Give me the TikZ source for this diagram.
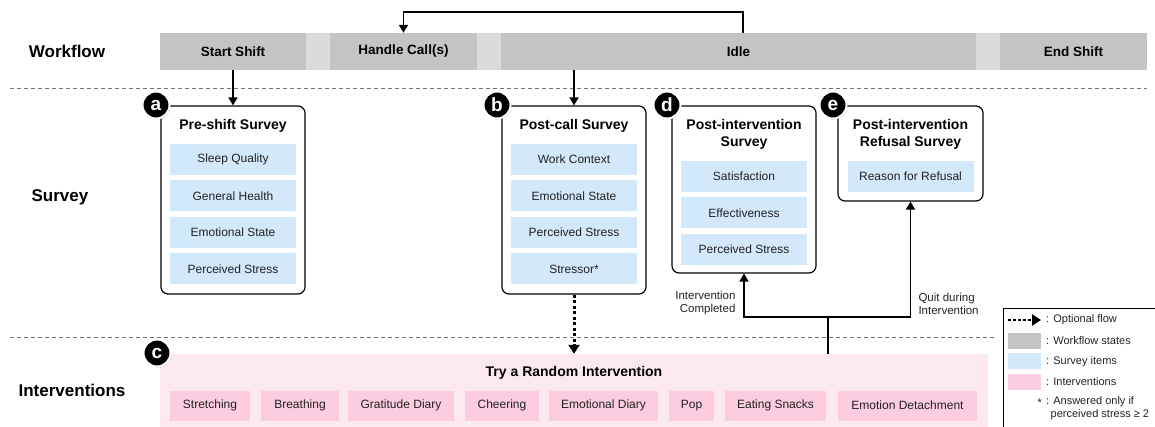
\documentclass[tikz,border=0pt]{standalone}
\usepackage{fontspec}
\setmainfont{Liberation Sans}
\usetikzlibrary{arrows.meta,shadows}
\definecolor{wfgray}{HTML}{C4C4C4}
\definecolor{wflight}{HTML}{DBDBDB}
\definecolor{survblue}{HTML}{D3E8FB}
\definecolor{intpink}{HTML}{FCCCE0}
\definecolor{intbg}{HTML}{FBE9EF}
\definecolor{txt}{HTML}{222222}
\tikzset{
  wfseg/.style={fill=wfgray, draw=none, minimum height=37pt, inner sep=0pt, font=\fontsize{13.5}{15}\selectfont\bfseries},
  wfgap/.style={fill=wflight, draw=none, minimum height=37pt, inner sep=0pt},
  rowlabel/.style={font=\fontsize{17}{18}\selectfont\bfseries},
  survbox/.style={draw=black, line width=1.2pt, rounded corners=7pt, fill=white, minimum width=144pt, inner sep=0pt},
  boxtitle/.style={font=\fontsize{14}{17}\selectfont\bfseries, align=center},
  item/.style={fill=survblue, minimum width=126pt, minimum height=31pt, inner sep=0pt, text=txt, font=\fontsize{12}{13}\selectfont},
  intitem/.style={fill=intpink, minimum height=30pt, inner sep=0pt, text=txt, font=\fontsize{12}{13}\selectfont},
  badge/.style={circle, fill=black, draw=white, line width=2pt, minimum size=27pt, inner sep=0pt, text=white, font=\fontsize{19}{19}\selectfont\bfseries, drop shadow={opacity=0.35, shadow xshift=1pt, shadow yshift=-1pt}},
  flow/.style={line width=1.6pt, -{Triangle[length=8pt,width=9pt]}},
  plainline/.style={line width=1.6pt},
  optflow/.style={line width=3pt, dash pattern=on 3pt off 2.5pt, -{Triangle[length=9pt,width=11pt]}},
  sep/.style={draw=gray!90!black, line width=0.9pt, dash pattern=on 4pt off 3pt},
  lbl/.style={font=\fontsize{11.5}{13}\selectfont, text=txt},
  legtxt/.style={font=\fontsize{11}{13}\selectfont, text=txt, anchor=west, inner sep=0pt, align=left},
  swatch/.style={minimum width=33pt, minimum height=16pt, inner sep=0pt},
}
\begin{document}
\begin{tikzpicture}[x=1pt,y=-1pt]
\useasboundingbox (0,0) rectangle (1155,427);
\clip (0,0) rectangle (1155,427);

% separators
\draw[sep] (10,88) -- (1147,88);
\draw[sep] (10,337) -- (995,337);

% row labels
\node[rowlabel] (lwf) at (67,51) {Workflow};
\node[rowlabel] (lsv) at (60,197) {Survey};
\node[rowlabel] (lin) at (72,390) {Interventions};

% workflow bar
\node[wfseg, minimum width=146pt] (ss) at (233,51.5) {Start Shift};
\node[wfgap, minimum width=24pt] (g1) at (318,51.5) {};
\node[wfseg, minimum width=147pt] (hc) at (403.5,51.5) {Handle Call(s)};
\node[wfgap, minimum width=24pt] (g2) at (489,51.5) {};
\node[wfseg, minimum width=475pt] (idle) at (738.5,51.5) {Idle};
\node[wfgap, minimum width=24pt] (g3) at (988,51.5) {};
\node[wfseg, minimum width=147pt] (es) at (1073.5,51.5) {End Shift};

\coordinate (loopR) at (743,12);
\draw[flow] (idle.north -| loopR) -- (loopR) -| (hc.north);

% survey boxes
\node[survbox, minimum height=188pt] (ba) at (233,200) {};
\node[survbox, minimum height=188pt] (bb) at (574,200) {};
\node[survbox, minimum height=167pt] (bd) at (744,189.5) {};
\node[survbox, minimum width=145pt, minimum height=95pt] (be) at (910.5,153.5) {};

\node[boxtitle] (ta) at (233,126) {Pre-shift Survey};
\node[item] (a1) at (233,159.5) {Sleep Quality};
\node[item] (a2) at (233,196) {General Health};
\node[item] (a3) at (233,232.5) {Emotional State};
\node[item] (a4) at (233,269) {Perceived Stress};

\node[boxtitle] (tb) at (574,126) {Post-call Survey};
\node[item] (b1) at (574,159.5) {Work Context};
\node[item] (b2) at (574,196) {Emotional State};
\node[item] (b3) at (574,232.5) {Perceived Stress};
\node[item] (b4) at (574,269) {Stressor*};

\node[boxtitle] (td) at (744,134.5) {Post-intervention\\Survey};
\node[item] (d1) at (744,176.5) {Satisfaction};
\node[item] (d2) at (744,213) {Effectiveness};
\node[item] (d3) at (744,249.5) {Perceived Stress};

\node[boxtitle] (te) at (910.5,134.5) {Post-intervention\\Refusal Survey};
\node[item] (e1) at (910.5,176.5) {Reason for Refusal};

% arrows from workflow
\draw[flow] (ss.south) -- (ba.north);
\draw[flow] (idle.south -| bb.north) -- (bb.north);

% interventions
\node[fill=intbg, minimum width=828pt, minimum height=76pt, inner sep=0pt] (intv) at (574,392) {};
\node[font=\fontsize{14}{15}\selectfont\bfseries] (ti) at (574,373) {Try a Random Intervention};
\node[intitem, minimum width=80pt] (i1) at (210,405.5) {Stretching};
\node[intitem, minimum width=78pt] (i2) at (300,405.5) {Breathing};
\node[intitem, minimum width=106pt] (i3) at (401,405.5) {Gratitude Diary};
\node[intitem, minimum width=74pt] (i4) at (502,405.5) {Cheering};
\node[intitem, minimum width=109pt] (i5) at (603.5,405.5) {Emotional Diary};
\node[intitem, minimum width=45pt] (i6) at (691.5,405.5) {Pop};
\node[intitem, minimum width=101pt] (i7) at (775.5,405.5) {Eating Snacks};
\node[intitem, minimum width=139pt] (i8) at (907.5,405.5) {Emotion Detachment};

\draw[optflow] (bb.south) -- (bb.south |- intv.north);

\coordinate (j) at (828,317);
\draw[plainline] (intv.north -| j) -- (j);
\draw[flow] (j) -| (bd.south);
\draw[flow] (j) -| (be.south);
\node[lbl, align=right, anchor=east] (lc) at (739,303.5) {Intervention\\Completed};
\node[lbl, align=left, anchor=west] (lq) at (915,303.5) {Quit during\\Intervention};

% badges
\node[badge] (na) at (156,105) {a};
\node[badge] (nb) at (497,105) {b};
\node[badge] (nd) at (667,105) {d};
\node[badge] (ne) at (833,105) {e};
\node[badge] (nc) at (157,353) {c};

% legend
\node[draw=black, line width=1pt, minimum width=170pt, minimum height=140pt, inner sep=0pt, anchor=north west] (leg) at (1003,308) {};
\coordinate (o1) at (1008,320);
\coordinate (o2) at (1041,320);
\draw[line width=2.4pt, dash pattern=on 2.5pt off 2.5pt, -{Triangle[length=9pt,width=11pt]}] (o1) -- (o2);
\node[legtxt] (l1) at (1046,320) {: Optional flow};
\node[swatch, fill=wfgray] (s2) at (1024.5,340.5) {};
\node[legtxt] (l2) at (1046,341) {: Workflow states};
\node[swatch, fill=survblue] (s3) at (1024.5,361) {};
\node[legtxt] (l3) at (1046,361.5) {: Survey items};
\node[swatch, fill=intpink] (s4) at (1024.5,381.5) {};
\node[legtxt] (l4) at (1046,382) {: Interventions};
\node[legtxt, anchor=east] (l5s) at (1042,403) {*};
\node[legtxt, anchor=north west] (l5) at (1046,396) {: Answered only if\\\hspace*{4.5pt}perceived stress ≥ 2};
\end{tikzpicture}
\end{document}
